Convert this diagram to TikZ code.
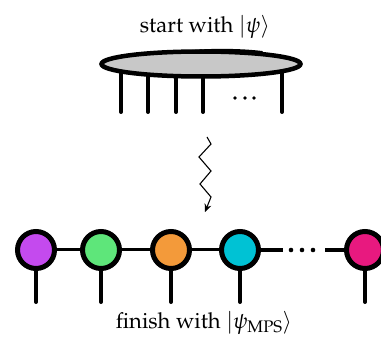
\documentclass[tikz,border=0pt]{standalone}
\usepackage[T1]{fontenc}
\usepackage{mathpazo}
\usetikzlibrary{shapes.geometric,arrows.meta}
\pgfdeclarelayer{background}
\pgfsetlayers{background,main}
\definecolor{cpurple}{HTML}{C44AEE}
\definecolor{cgreen}{HTML}{5EE67A}
\definecolor{corange}{HTML}{F39A3A}
\definecolor{ccyan}{HTML}{00C2D4}
\definecolor{cpink}{HTML}{E8197F}
\definecolor{cgray}{HTML}{C8C8C8}
\tikzset{
  lbl/.style={font=\fontsize{22}{26}\selectfont, anchor=base, inner sep=0pt},
  leg/.style={line width=4pt, line cap=round},
  site/.style={circle, draw=black, line width=5pt, minimum size=37pt, inner sep=0pt},
  bond/.style={line width=3pt},
  thickbond/.style={line width=4pt},
}
\begin{document}
\begin{tikzpicture}[x=1pt,y=-1pt]
\useasboundingbox (0,0) rectangle (381,337);
% title
\node[lbl] (title) at (205,33) {start with $|\psi\rangle$};
% state ellipse
\node[ellipse, draw=black, fill=cgray, line width=4.5pt, minimum width=199pt, minimum height=25pt, inner sep=0pt] (state) at (201,64) {};
\draw[line width=3pt, line cap=round] (186,52) .. controls (212,49.5) and (242,50) .. (262,52.5);
\begin{pgfonlayer}{background}
\foreach \x [count=\i] in {121,148,176,203,282}{
  \coordinate (top\i) at (\x,64);
  \coordinate (l\i) at (\x,112);
  \draw[leg] (top\i) -- (l\i);
}
\end{pgfonlayer}
\foreach \x in {235,245,254} \fill (\x,98) circle (1.8pt);
% zigzag arrow
\coordinate (zs) at (207,137);
\coordinate (ze) at (205,212);
\draw[line width=1.1pt, -{Stealth[length=8pt,width=7pt]}] (zs) -- (211,144) -- (199,157) -- (211,171) -- (200,184) -- (211,197) -- (ze);
% chain
\node[site, fill=cpurple] (c1) at (36,250) {};
\node[site, fill=cgreen] (c2) at (101,250) {};
\node[site, fill=corange] (c3) at (171,250) {};
\node[site, fill=ccyan] (c4) at (240,250) {};
\node[site, fill=cpink] (c5) at (365,250) {};
\begin{pgfonlayer}{background}
\draw[bond] (c1) -- (c2);
\draw[bond] (c2) -- (c3);
\draw[bond] (c3) -- (c4);
\end{pgfonlayer}
\coordinate (d1) at (283,250);
\coordinate (d2) at (325,250);
\draw[thickbond] (c4.east) -- (d1);
\draw[thickbond] (d2) -- (c5.west);
\foreach \x in {291,302,313} \fill (\x,250) circle (2.3pt);
\foreach \i/\x in {1/36,2/101,3/171,4/240,5/365}{
  \coordinate (b\i) at (\x,302);
  \draw[leg] (c\i.south) -- (b\i);
}
\node[lbl] (foot) at (204,328) {finish with $|\psi_{\mathrm{MPS}}\rangle$};
\end{tikzpicture}
\end{document}
